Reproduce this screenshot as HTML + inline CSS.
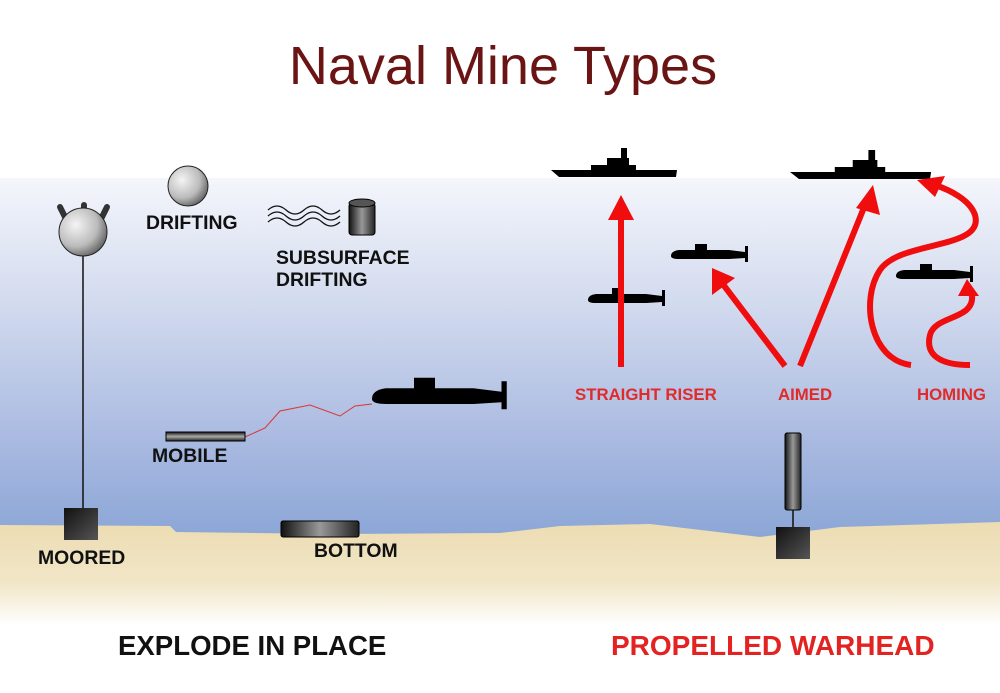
<!DOCTYPE html>
<html><head><meta charset="utf-8"><style>
html,body{margin:0;padding:0;background:#fff;}
svg{display:block;}
text{font-family:"Liberation Sans",Arial,sans-serif;font-weight:bold;}
</style></head><body>
<svg width="1000" height="693" viewBox="0 0 1000 693" xmlns="http://www.w3.org/2000/svg">
<defs>
<linearGradient id="water" x1="0" y1="0" x2="0" y2="1">
<stop offset="0" stop-color="#f4f6fb"/><stop offset="0.35" stop-color="#d2daee"/><stop offset="0.75" stop-color="#a7b8e0"/><stop offset="1" stop-color="#8ba6d6"/></linearGradient>
<linearGradient id="sand" x1="0" y1="0" x2="0" y2="1">
<stop offset="0" stop-color="#ecdcb2"/><stop offset="0.6" stop-color="#f1e6c8"/><stop offset="1" stop-color="#ffffff"/></linearGradient>
<radialGradient id="ball" cx="0.35" cy="0.35" r="0.75"><stop offset="0" stop-color="#f4f4f4"/><stop offset="0.6" stop-color="#bbb"/><stop offset="1" stop-color="#555"/></radialGradient>
<linearGradient id="cyl" x1="0" y1="0" x2="1" y2="0"><stop offset="0" stop-color="#111"/><stop offset="0.5" stop-color="#999"/><stop offset="1" stop-color="#222"/></linearGradient>
<linearGradient id="cylv" x1="0" y1="0" x2="0" y2="1"><stop offset="0" stop-color="#111"/><stop offset="0.5" stop-color="#aaa"/><stop offset="1" stop-color="#222"/></linearGradient>
<linearGradient id="box" x1="0" y1="0" x2="1" y2="1"><stop offset="0" stop-color="#111"/><stop offset="1" stop-color="#555"/></linearGradient>
<g id="sub"><path d="M0,5 Q0,0 8,-1 L58,-1 L74,1 L74,7 L58,8 L8,8 Q0,8 0,5Z" fill="#000"/><rect x="24" y="-7" width="12" height="7" fill="#000"/><rect x="74" y="-5" width="3" height="16" fill="#000"/></g>
<g id="ship"><path d="M0,0 L126,0 L125,7 L8,7Z" fill="#000"/><rect x="40" y="-5" width="45" height="5" fill="#000"/><rect x="56" y="-12" width="22" height="7" fill="#000"/><rect x="70" y="-22" width="6" height="10" fill="#000"/></g>
</defs>
<rect width="1000" height="693" fill="#fff"/>
<rect x="0" y="178" width="1000" height="360" fill="url(#water)"/>
<path d="M0,525 L170,526 L176,532 L330,534 L500,533 L560,526 L650,524 L760,537 L840,527 L1000,522 L1000,625 L0,625Z" fill="url(#sand)"/>
<text x="503" y="84" text-anchor="middle" font-size="54" fill="#6b1414" style="font-weight:normal">Naval Mine Types</text>
<!-- moored -->
<line x1="83" y1="240" x2="83" y2="510" stroke="#111" stroke-width="1.5"/>
<g stroke="#333" stroke-width="6" stroke-linecap="round"><line x1="60" y1="207" x2="66" y2="219"/><line x1="84" y1="205" x2="84" y2="216"/><line x1="107" y1="207" x2="101" y2="219"/></g>
<circle cx="83" cy="232" r="24" fill="url(#ball)" stroke="#222" stroke-width="1"/>
<rect x="64" y="508" width="34" height="32" fill="url(#box)"/>
<text x="38" y="564" font-size="19.4" fill="#111">MOORED</text>
<!-- drifting -->
<circle cx="188" cy="186" r="20" fill="url(#ball)" stroke="#222" stroke-width="1"/>
<text x="146" y="229" font-size="19.4" fill="#111">DRIFTING</text>
<g fill="none" stroke="#111" stroke-width="1.3"><path d="M268,210 q9,-8 18,0 t18,0 t18,0 t18,0"/><path d="M268,216 q9,-8 18,0 t18,0 t18,0 t18,0"/><path d="M268,222 q9,-8 18,0 t18,0 t18,0 t18,0"/></g>
<rect x="349" y="203" width="26" height="32" rx="3" fill="url(#cyl)" stroke="#000"/>
<ellipse cx="362" cy="203" rx="13" ry="4" fill="#555" stroke="#000"/>
<text x="276" y="264" font-size="19.4" fill="#111">SUBSURFACE</text>
<text x="276" y="286" font-size="19.4" fill="#111">DRIFTING</text>
<!-- mobile -->
<path d="M245,437 L265,428 L280,411 L310,405 L340,416 L355,406 L372,404" fill="none" stroke="#d33" stroke-width="1"/>
<g transform="translate(372,390) scale(1.75)"><use href="#sub"/></g>
<rect x="166" y="432" width="79" height="9" fill="url(#cylv)" stroke="#000" stroke-width="1"/>
<text x="152" y="462" font-size="19.4" fill="#111">MOBILE</text>
<rect x="281" y="521" width="78" height="16" rx="2" fill="url(#cyl)" stroke="#000"/>
<text x="314" y="557" font-size="19.4" fill="#111">BOTTOM</text>
<!-- ships -->
<g transform="translate(551,170)"><use href="#ship"/></g>
<g transform="translate(790,172) scale(1.12,1)"><use href="#ship"/></g>
<g transform="translate(588,295)"><use href="#sub"/></g>
<g transform="translate(671,251)"><use href="#sub"/></g>
<g transform="translate(896,271)"><use href="#sub"/></g>
<!-- arrows -->
<g stroke="#f00d0d" stroke-width="6" fill="none">
<line x1="621" y1="367" x2="621" y2="215"/>
<line x1="785" y1="366" x2="722" y2="283"/>
<line x1="800" y1="366" x2="865" y2="205"/>
<path d="M911,365 C870,360 860,300 880,270 C900,240 985,250 975,215 C970,200 950,190 935,185"/>
<path d="M970,365 C940,365 925,355 930,335 C935,315 975,320 972,295"/>
</g>
<g fill="#f00d0d">
<polygon points="621,195 608,220 634,220"/>
<polygon points="712,268 712,295 735,278"/>
<polygon points="873,185 856,208 880,215"/>
<polygon points="917,180 935,197 945,176"/>
<polygon points="967,279 958,296 979,296"/>
</g>
<text x="575" y="400" font-size="16.8" fill="#e02b2b">STRAIGHT RISER</text>
<text x="778" y="400" font-size="16.8" fill="#e02b2b">AIMED</text>
<text x="917" y="400" font-size="16.8" fill="#e02b2b">HOMING</text>
<rect x="785" y="433" width="16" height="77" rx="2" fill="url(#cyl)" stroke="#000"/>
<line x1="793" y1="510" x2="793" y2="527" stroke="#111" stroke-width="1.5"/>
<rect x="776" y="527" width="34" height="32" fill="url(#box)"/>
<text x="118" y="655" font-size="27.6" fill="#111">EXPLODE IN PLACE</text>
<text x="611" y="655" font-size="28" fill="#e32222">PROPELLED WARHEAD</text>
</svg>
</body></html>
